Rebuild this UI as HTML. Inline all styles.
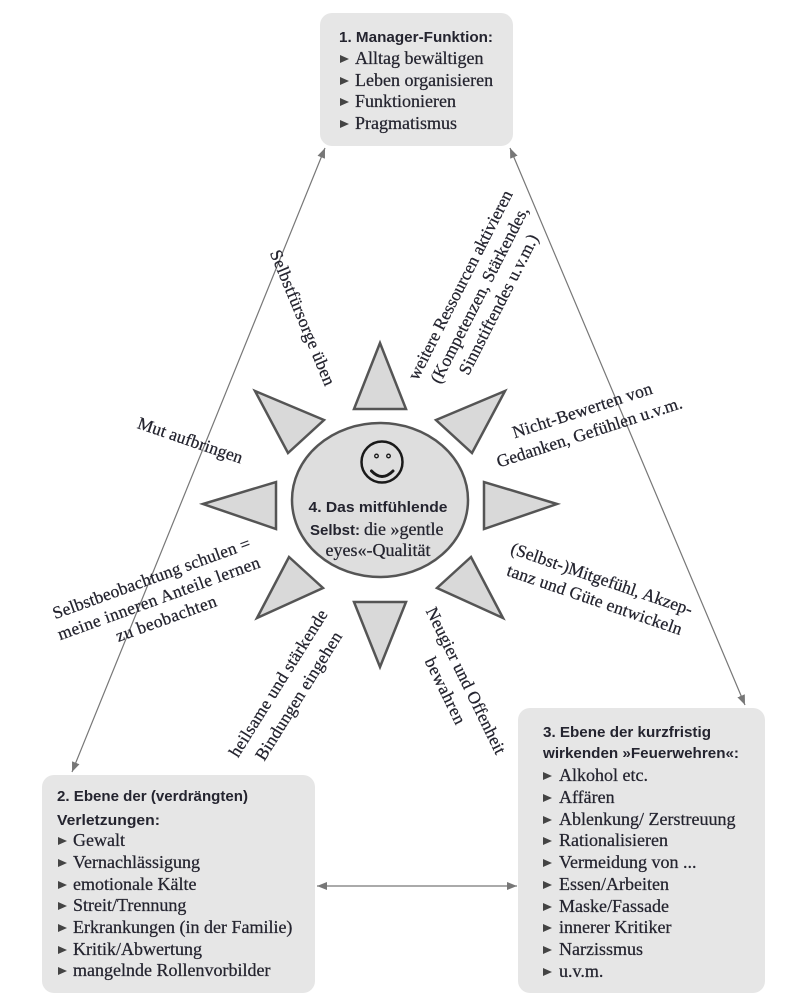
<!DOCTYPE html>
<html>
<head>
<meta charset="utf-8">
<style>
  html,body{margin:0;padding:0;background:#fff;}
  svg{display:block;}
  .s{font-family:"Liberation Serif",serif;font-size:18px;fill:#24242f;stroke:#24242f;stroke-width:0.25;}
  .l{font-family:"Liberation Serif",serif;font-size:17.5px;fill:#24242f;stroke:#24242f;stroke-width:0.25;}
  .b{font-family:"Liberation Sans",sans-serif;font-size:15px;font-weight:bold;fill:#24242f;}
</style>
</head>
<body>
<svg width="800" height="1000" viewBox="0 0 800 1000" xmlns="http://www.w3.org/2000/svg">
  <defs>
    <marker id="a" viewBox="0 0 10 8" refX="10" refY="4" markerWidth="10" markerHeight="8" markerUnits="userSpaceOnUse" orient="auto-start-reverse">
      <path d="M0,0 L10,4 L0,8 z" fill="#777"/>
    </marker>
  </defs>

  <!-- connector lines -->
  <line x1="72" y1="772" x2="325" y2="148" stroke="#777" stroke-width="1.2" marker-start="url(#a)" marker-end="url(#a)"/>
  <line x1="510" y1="148" x2="745" y2="705" stroke="#777" stroke-width="1.2" marker-start="url(#a)" marker-end="url(#a)"/>
  <line x1="317" y1="886" x2="517" y2="886" stroke="#777" stroke-width="1.2" marker-start="url(#a)" marker-end="url(#a)"/>

  <!-- boxes -->
  <rect x="320" y="13" width="193" height="133" rx="12" fill="#e6e6e6"/>
  <rect x="42" y="775" width="273" height="218" rx="12" fill="#e6e6e6"/>
  <rect x="518" y="708" width="247" height="285" rx="12" fill="#e6e6e6"/>

  <!-- top box text -->
  <text class="b" x="339" y="42" textLength="154" lengthAdjust="spacingAndGlyphs">1. Manager-Funktion:</text>
  <g fill="#444">
    <polygon points="340,55 349,59 340,63"/>
    <polygon points="340,77 349,81 340,85"/>
    <polygon points="340,98 349,102 340,106"/>
    <polygon points="340,120 349,124 340,128"/>
  </g>
  <text class="s" x="355" y="64">Alltag bewältigen</text>
  <text class="s" x="355" y="86">Leben organisieren</text>
  <text class="s" x="355" y="107">Funktionieren</text>
  <text class="s" x="355" y="129">Pragmatismus</text>

  <!-- left box text -->
  <text class="b" x="57" y="801" textLength="191" lengthAdjust="spacingAndGlyphs">2. Ebene der (verdrängten)</text>
  <text class="b" x="57" y="825" textLength="103" lengthAdjust="spacingAndGlyphs">Verletzungen:</text>
  <g fill="#444">
    <polygon points="58,837 67,841 58,845"/>
    <polygon points="58,859 67,863 58,867"/>
    <polygon points="58,881 67,885 58,889"/>
    <polygon points="58,902 67,906 58,910"/>
    <polygon points="58,924 67,928 58,932"/>
    <polygon points="58,946 67,950 58,954"/>
    <polygon points="58,967 67,971 58,975"/>
  </g>
  <text class="s" x="73" y="846">Gewalt</text>
  <text class="s" x="73" y="868">Vernachlässigung</text>
  <text class="s" x="73" y="890">emotionale Kälte</text>
  <text class="s" x="73" y="911">Streit/Trennung</text>
  <text class="s" x="73" y="933">Erkrankungen (in der Familie)</text>
  <text class="s" x="73" y="955">Kritik/Abwertung</text>
  <text class="s" x="73" y="976">mangelnde Rollenvorbilder</text>

  <!-- right box text -->
  <text class="b" x="543" y="737" textLength="168" lengthAdjust="spacingAndGlyphs">3. Ebene der kurzfristig</text>
  <text class="b" x="543" y="758" textLength="196" lengthAdjust="spacingAndGlyphs">wirkenden »Feuerwehren«:</text>
  <g fill="#444">
    <polygon points="543,772 552,776 543,780"/>
    <polygon points="543,794 552,798 543,802"/>
    <polygon points="543,816 552,820 543,824"/>
    <polygon points="543,837 552,841 543,845"/>
    <polygon points="543,859 552,863 543,867"/>
    <polygon points="543,881 552,885 543,889"/>
    <polygon points="543,903 552,907 543,911"/>
    <polygon points="543,924 552,928 543,932"/>
    <polygon points="543,946 552,950 543,954"/>
    <polygon points="543,968 552,972 543,976"/>
  </g>
  <text class="s" x="559" y="781">Alkohol etc.</text>
  <text class="s" x="559" y="803">Affären</text>
  <text class="s" x="559" y="825">Ablenkung/ Zerstreuung</text>
  <text class="s" x="559" y="846">Rationalisieren</text>
  <text class="s" x="559" y="868">Vermeidung von ...</text>
  <text class="s" x="559" y="890">Essen/Arbeiten</text>
  <text class="s" x="559" y="912">Maske/Fassade</text>
  <text class="s" x="559" y="933">innerer Kritiker</text>
  <text class="s" x="559" y="955">Narzissmus</text>
  <text class="s" x="559" y="977">u.v.m.</text>

  <!-- sun rays -->
  <g fill="#d9d9d9" stroke="#555" stroke-width="2.5" stroke-linejoin="miter">
    <polygon points="380,343 354,409 406,409"/>
    <polygon points="380,667 354,602 406,602"/>
    <polygon points="203,504 276,482 276,529"/>
    <polygon points="557,504 484,482 484,529"/>
    <polygon points="255,391 324,420 288,453"/>
    <polygon points="505,391 436,420 472,453"/>
    <polygon points="289,557 323,588 257,618"/>
    <polygon points="471,557 437,588 503,618"/>
  </g>
  <ellipse cx="380" cy="500" rx="88" ry="77" fill="#dedede" stroke="#555" stroke-width="2.5"/>

  <!-- smiley -->
  <circle cx="382" cy="462" r="20.5" fill="none" stroke="#1a1a1a" stroke-width="2.5"/>
  <circle cx="376.5" cy="456" r="1.8" fill="none" stroke="#1a1a1a" stroke-width="1.3"/>
  <circle cx="388.5" cy="456" r="1.8" fill="none" stroke="#1a1a1a" stroke-width="1.3"/>
  <path d="M371.5,471 Q382,482 393,471" fill="none" stroke="#1a1a1a" stroke-width="3" stroke-linecap="round"/>

  <!-- center text -->
  <text class="b" x="378" y="512" text-anchor="middle" textLength="139" lengthAdjust="spacingAndGlyphs">4. Das mitfühlende</text>
  <text x="310" y="535"><tspan class="b">Selbst:</tspan><tspan class="s" x="364">die »gentle</tspan></text>
  <text class="s" x="378" y="556" text-anchor="middle">eyes«-Qualität</text>

  <!-- rotated labels -->
  <text class="l" transform="translate(302,318) rotate(67.5)" x="0" y="5" text-anchor="middle" textLength="145">Selbstfürsorge üben</text>

  <g transform="translate(480,295) rotate(-63)">
    <text class="l" x="0" y="-16.5" text-anchor="middle" textLength="210">weitere Ressourcen aktivieren</text>
    <text class="l" x="0" y="5" text-anchor="middle" textLength="196">(Kompetenzen, Stärkendes,</text>
    <text class="l" x="0" y="26.5" text-anchor="middle" textLength="155">Sinnstiftendes u.v.m.)</text>
  </g>

  <text class="l" transform="translate(190,441) rotate(19)" x="0" y="5" text-anchor="middle" textLength="110">Mut aufbringen</text>

  <g transform="translate(586,422) rotate(-18)">
    <text class="l" x="0" y="-6.5" text-anchor="middle" textLength="146">Nicht-Bewerten von</text>
    <text class="l" x="0" y="16.5" text-anchor="middle" textLength="194">Gedanken, Gefühlen u.v.m.</text>
  </g>

  <g transform="translate(159,599) rotate(-20)">
    <text class="l" x="0" y="-16.5" text-anchor="middle" textLength="209">Selbstbeobachtung schulen =</text>
    <text class="l" x="0" y="5" text-anchor="middle" textLength="214">meine inneren Anteile lernen</text>
    <text class="l" x="0" y="26.5" text-anchor="middle" textLength="106">zu beobachten</text>
  </g>

  <g transform="translate(598,590) rotate(19)">
    <text class="l" x="0" y="-6" text-anchor="middle" textLength="191">(Selbst-)Mitgefühl, Akzep-</text>
    <text class="l" x="0" y="16" text-anchor="middle" textLength="184">tanz und Güte entwickeln</text>
  </g>

  <g transform="translate(289,690) rotate(-58)">
    <text class="l" x="0" y="-7" text-anchor="middle" textLength="170">heilsame und stärkende</text>
    <text class="l" x="0" y="17" text-anchor="middle" textLength="148">Bindungen eingehen</text>
  </g>

  <g transform="translate(455,686) rotate(64)">
    <text class="l" x="0" y="-6.5" text-anchor="middle" textLength="161">Neugier und Offenheit</text>
    <text class="l" x="0" y="16.5" text-anchor="middle" textLength="72">bewahren</text>
  </g>
</svg>
</body>
</html>
